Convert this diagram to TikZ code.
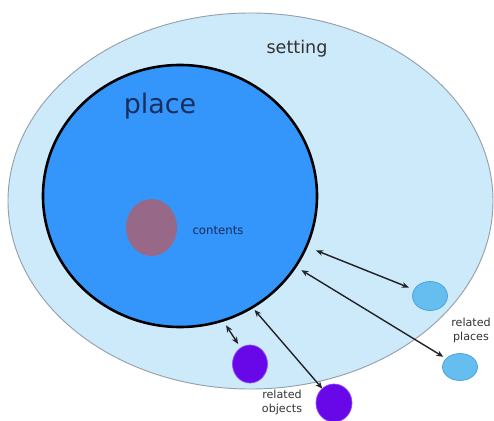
\documentclass[tikz,border=0pt]{standalone}
\usepackage{fontspec}
\setmainfont{DejaVu Sans}
\usetikzlibrary{shapes.geometric,arrows.meta}
\definecolor{outerfill}{RGB}{205,234,251}
\definecolor{outerline}{RGB}{150,160,170}
\definecolor{placefill}{RGB}{52,150,250}
\definecolor{contfill}{RGB}{152,104,136}
\definecolor{rpfill}{RGB}{102,190,240}
\definecolor{rpline}{RGB}{70,160,215}
\definecolor{objfill}{RGB}{104,8,232}
\definecolor{objline}{RGB}{145,70,255}
\definecolor{navy}{RGB}{25,45,95}
\definecolor{txtgrey}{RGB}{50,50,50}
\definecolor{arrowcol}{RGB}{35,35,40}
\tikzset{
  blob/.style={ellipse, inner sep=0pt, outer sep=0pt},
  dbl/.style={{Stealth[length=6pt,width=5pt]}-{Stealth[length=6pt,width=5pt]}, line width=1.2pt, draw=arrowcol},
  smalltxt/.style={font=\fontsize{9.5}{12}\selectfont, text=txtgrey, align=center, inner sep=0pt}
}
\begin{document}
\begin{tikzpicture}[x=0.03cm,y=-0.03cm]
\useasboundingbox (0,0) rectangle (494,421);
\node[blob, fill=outerfill, draw=outerline, line width=0.8pt, minimum width=14.55cm, minimum height=11.28cm] (setting) at (250.5,201) {};
\node[blob, fill=placefill, draw=black, line width=2.2pt, minimum width=8.22cm, minimum height=7.86cm] (place) at (180,196) {};
\node[blob, fill=contfill, minimum width=1.53cm, minimum height=1.71cm] (contents) at (151.5,227.5) {};
\node[blob, fill=rpfill, draw=rpline, line width=0.6pt, minimum width=1.05cm, minimum height=0.87cm] (rp1) at (430,296) {};
\node[blob, fill=rpfill, draw=rpline, line width=0.6pt, minimum width=1.05cm, minimum height=0.81cm] (rp2) at (460,367) {};
\node[blob, fill=objfill, draw=objline, line width=0.6pt, minimum width=1.05cm, minimum height=1.14cm] (obj1) at (250,364) {};
\node[blob, fill=objfill, draw=objline, line width=0.6pt, minimum width=1.08cm, minimum height=1.14cm] (obj2) at (334,403) {};
\node[font=\fontsize{15}{17}\selectfont, text=txtgrey, inner sep=0pt] (settinglbl) at (297,49) {setting};
\node[font=\fontsize{23}{26}\selectfont, text=navy, inner sep=0pt] (placelbl) at (160,106) {place};
\node[font=\fontsize{10}{12}\selectfont, text=navy, inner sep=0pt] (contlbl) at (218,230) {contents};
\node[smalltxt] (rplbl) at (471,330) {related\\places};
\node[smalltxt] (objlbl) at (282,402) {related\\objects};
\draw[dbl, shorten <=9pt, shorten >=5pt] (place) -- (rp1);
\draw[dbl, shorten <=6pt, shorten >=3pt] (place) -- (rp2);
\draw[dbl, shorten <=3pt] (place.-57) -- (obj2.129);
\draw[dbl, shorten <=5pt, shorten >=4pt] (place.-71) -- (obj1.120);
\end{tikzpicture}
\end{document}
